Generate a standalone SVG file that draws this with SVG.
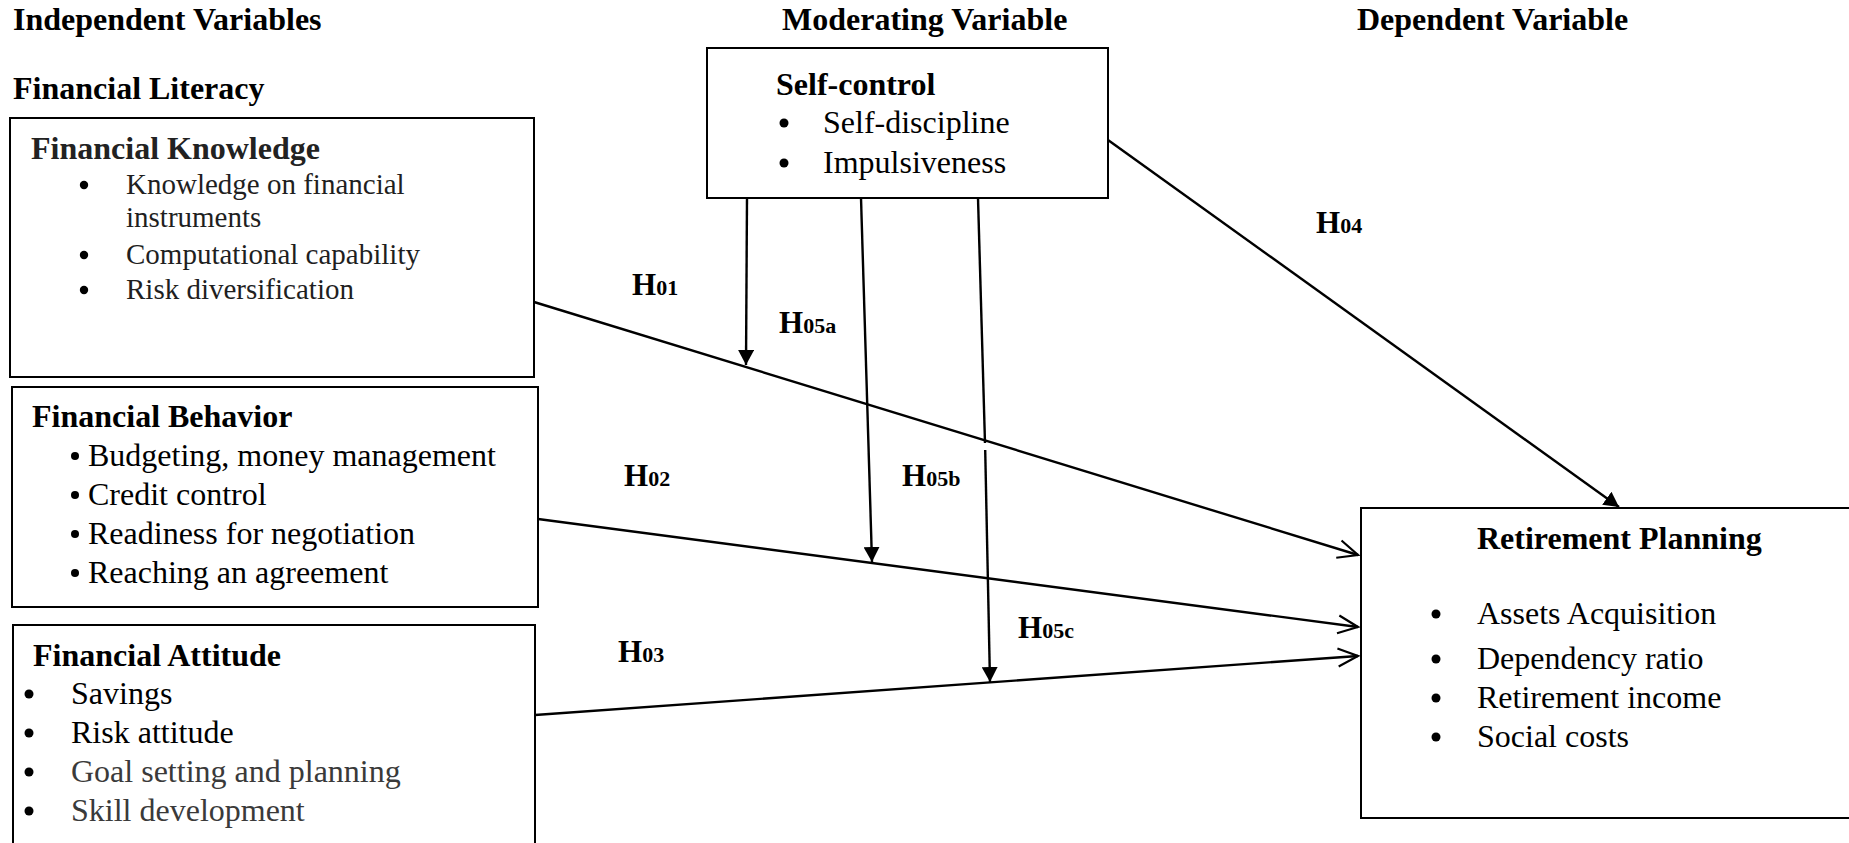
<svg xmlns="http://www.w3.org/2000/svg" width="1849" height="843" viewBox="0 0 1849 843">
<style>
text{font-family:"Liberation Serif","Times New Roman",serif;fill:#000}
.hdr{font-size:32px;font-weight:bold}
.ttl{font-size:32px;font-weight:bold}
.itm{font-size:32px}
.itm29{font-size:29px;fill:#1f1f1f}
.ttl1{fill:#222}
.gray{fill:#3a3a3a}
.hl{font-size:31px;font-weight:bold}
.sub{font-size:22px}
.box{fill:#fff;stroke:#000;stroke-width:2}
.ln{fill:none;stroke:#000;stroke-width:2.4}
.bul{fill:#000}
</style>
<defs>
<marker id="solid" markerUnits="userSpaceOnUse" markerWidth="16" markerHeight="16" refX="15" refY="8" orient="auto">
<path d="M0,0 L15,8 L0,16 Z" fill="#000"/>
</marker>
<marker id="open" markerUnits="userSpaceOnUse" markerWidth="24" markerHeight="22" refX="21" refY="11" orient="auto">
<path d="M1,2 L21,11 L1,20" fill="none" stroke="#000" stroke-width="2.2"/>
</marker>
</defs>
<rect width="1849" height="843" fill="#fff"/>

<g id="headers">
<text class="hdr" x="13" y="30">Independent Variables</text>
<text class="hdr" x="782" y="30">Moderating Variable</text>
<text class="hdr" x="1357" y="30">Dependent Variable</text>
<text class="hdr" x="13" y="99">Financial Literacy</text>
</g>

<g id="financial-knowledge">
<rect class="box" x="10" y="118" width="524" height="259"/>
<text class="ttl ttl1" x="31" y="159">Financial Knowledge</text>
<circle class="bul" cx="84" cy="185" r="4.2"/>
<text class="itm29" x="126" y="194">Knowledge on financial</text>
<text class="itm29" x="126" y="227">instruments</text>
<circle class="bul" cx="84" cy="255" r="4.2"/>
<text class="itm29" x="126" y="264">Computational capability</text>
<circle class="bul" cx="84" cy="290" r="4.2"/>
<text class="itm29" x="126" y="299">Risk diversification</text>
</g>

<g id="financial-behavior">
<rect class="box" x="12" y="387" width="526" height="220"/>
<text class="ttl" x="32" y="427">Financial Behavior</text>
<circle class="bul" cx="75" cy="456" r="4"/>
<text class="itm" x="88" y="466">Budgeting, money management</text>
<circle class="bul" cx="75" cy="495" r="4"/>
<text class="itm" x="88" y="505">Credit control</text>
<circle class="bul" cx="75" cy="534" r="4"/>
<text class="itm" x="88" y="544">Readiness for negotiation</text>
<circle class="bul" cx="75" cy="573" r="4"/>
<text class="itm" x="88" y="583">Reaching an agreement</text>
</g>

<g id="financial-attitude">
<rect class="box" x="13" y="625" width="522" height="240"/>
<text class="ttl" x="33" y="666">Financial Attitude</text>
<circle class="bul" cx="29" cy="694" r="4.5"/>
<text class="itm" x="71" y="704">Savings</text>
<circle class="bul" cx="29" cy="733" r="4.5"/>
<text class="itm" x="71" y="743">Risk attitude</text>
<circle class="bul" cx="29" cy="772" r="4.5"/>
<text class="itm gray" x="71" y="782">Goal setting and planning</text>
<circle class="bul" cx="29" cy="811" r="4.5"/>
<text class="itm gray" x="71" y="821">Skill development</text>
</g>

<g id="self-control">
<rect class="box" x="707" y="48" width="401" height="150"/>
<text class="ttl" x="776" y="95">Self-control</text>
<circle class="bul" cx="784" cy="123" r="4.5"/>
<text class="itm" x="823" y="133">Self-discipline</text>
<circle class="bul" cx="784" cy="163" r="4.5"/>
<text class="itm" x="823" y="173">Impulsiveness</text>
</g>

<g id="retirement-planning">
<rect class="box" x="1361" y="508" width="500" height="310"/>
<text class="ttl" x="1477" y="549">Retirement Planning</text>
<circle class="bul" cx="1436" cy="614" r="4.5"/>
<text class="itm" x="1477" y="624">Assets Acquisition</text>
<circle class="bul" cx="1436" cy="659" r="4.5"/>
<text class="itm" x="1477" y="669">Dependency ratio</text>
<circle class="bul" cx="1436" cy="698" r="4.5"/>
<text class="itm" x="1477" y="708">Retirement income</text>
<circle class="bul" cx="1436" cy="737" r="4.5"/>
<text class="itm" x="1477" y="747">Social costs</text>
</g>

<g id="connectors">
<line class="ln" x1="534" y1="302" x2="1358" y2="555" marker-end="url(#open)"/>
<line class="ln" x1="538" y1="519" x2="1358" y2="627" marker-end="url(#open)"/>
<line class="ln" x1="535" y1="715" x2="1358" y2="656" marker-end="url(#open)"/>
<line class="ln" x1="1108" y1="140" x2="1619" y2="507" marker-end="url(#solid)"/>
<line class="ln" x1="747" y1="198" x2="746" y2="365" marker-end="url(#solid)"/>
<line class="ln" x1="861" y1="198" x2="872" y2="562" marker-end="url(#solid)"/>
<line class="ln" x1="978" y1="198" x2="985" y2="443"/>
<line class="ln" x1="985.2" y1="450" x2="990" y2="682" marker-end="url(#solid)"/>
</g>

<g id="labels">
<text class="hl" x="632" y="295">H<tspan class="sub">01</tspan></text>
<text class="hl" x="779" y="333">H<tspan class="sub">05a</tspan></text>
<text class="hl" x="624" y="486">H<tspan class="sub">02</tspan></text>
<text class="hl" x="902" y="486">H<tspan class="sub">05b</tspan></text>
<text class="hl" x="618" y="662">H<tspan class="sub">03</tspan></text>
<text class="hl" x="1018" y="638">H<tspan class="sub">05c</tspan></text>
<text class="hl" x="1316" y="233">H<tspan class="sub">04</tspan></text>
</g>
</svg>
